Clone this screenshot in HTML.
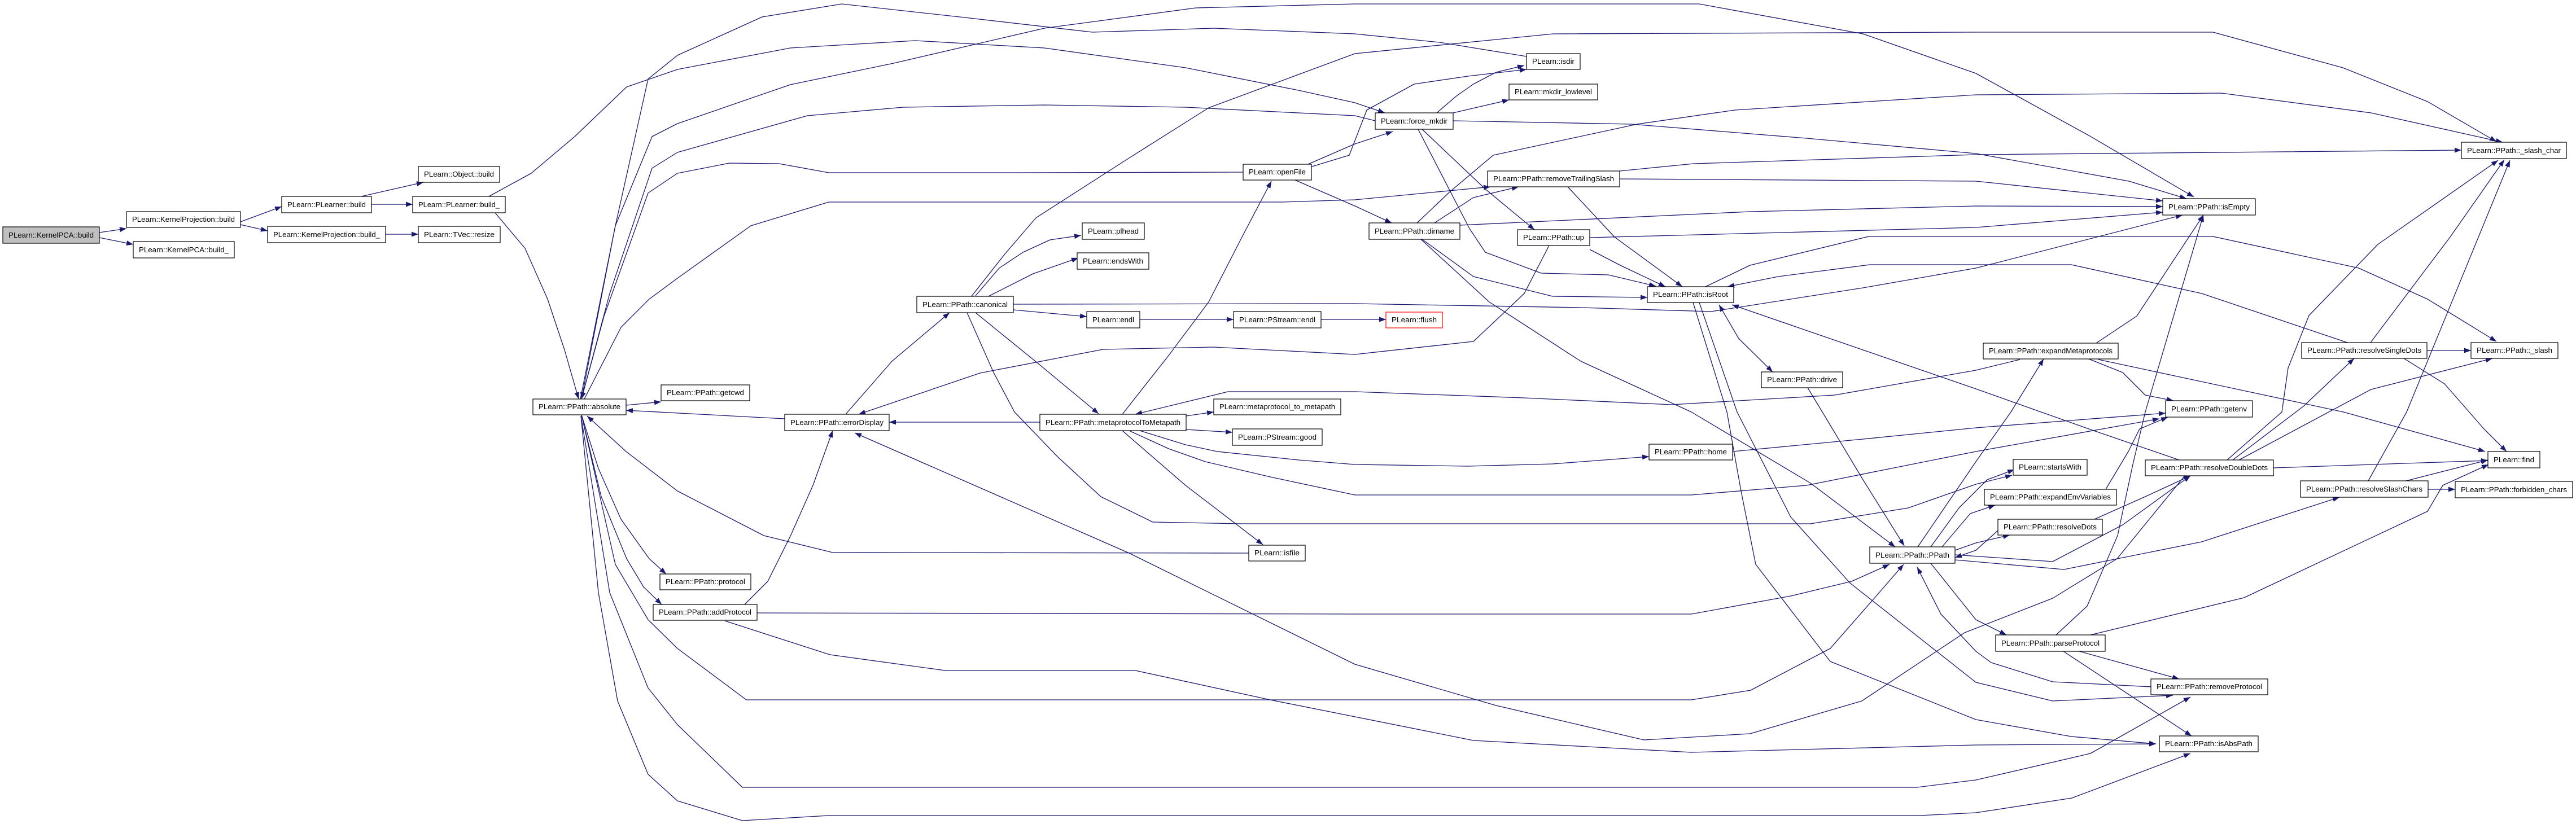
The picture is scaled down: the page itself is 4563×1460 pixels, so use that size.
<!DOCTYPE html>
<html><head><meta charset="utf-8"><style>
html,body{margin:0;padding:0;background:#fff}
svg{display:block}
text{font-family:"Liberation Sans",Arial,sans-serif;font-size:13px;fill:#000}
.e{fill:none;stroke:#191970;stroke-width:1.3;stroke-linejoin:round}
.n{fill:#fff;stroke:#000;stroke-width:1.2}
</style></head><body>
<svg width="4563" height="1460" viewBox="0 0 4563 1460" xmlns="http://www.w3.org/2000/svg">
<defs>
<marker id="a" markerUnits="userSpaceOnUse" markerWidth="12" markerHeight="9" refX="12" refY="4.5" orient="auto"><path d="M0,0 L12,4.5 L0,9 z" fill="#191970"/></marker>
<marker id="s" markerUnits="userSpaceOnUse" markerWidth="12" markerHeight="9" refX="0" refY="4.5" orient="auto"><path d="M12,0 L0,4.5 L12,9 z" fill="#191970"/></marker>
</defs>
<g marker-end="url(#a)">
<polyline class="e" points="176,412 224,405"/>
<polyline class="e" points="176,421 236,433"/>
<polyline class="e" points="426,393 499,366"/>
<polyline class="e" points="426,398 474,409"/>
<polyline class="e" points="640,348 750,323"/>
<polyline class="e" points="658,362 731,362"/>
<polyline class="e" points="683,415 741,415"/>
<polyline class="e" points="877,377 930,440 970,530 1000,620 1025,707"/>
<polyline class="e" points="866,348 941,307 1018,242 1110,154 1200,123 1400,85 1621,72 1850,85 2100,120 2300,160 2400,182 2453,200"/>
<polyline class="e" points="2704,100 2550,75 2400,60 2150,50 1935,57 1700,30 1491,7 1350,30 1200,98 1148,140 1090,400 1030,707"/>
<polyline class="e" points="1028,707 1090,400 1155,242 1200,219 1400,150 1583,112 1850,50 2118,14 2400,7 3010,7 3300,60 3500,130 3700,240 3886,349"/>
<polyline class="e" points="2436,214 2400,205 2100,190 1850,186 1600,190 1430,205 1200,270 1155,298 1080,520 1030,707"/>
<polyline class="e" points="2202,305 1800,306 1468,306 1380,290 1292,289 1200,307 1148,342 1070,560 1030,707"/>
<polyline class="e" points="1035,707 1100,580 1150,530 1200,493 1330,400 1468,358 2271,358 2400,354 2640,331"/>
<polyline class="e" points="1720,526 1780,450 1835,386 2000,280 2141,191 2400,95 2751,60 3500,57 3920,57 4150,120 4300,180 4422,251"/>
<polyline class="e" points="1795,539 2400,538 2800,545 3031,552 3300,510 3500,475 3866,381"/>
<polyline class="e" points="1728,524 1770,475 1812,447 1860,425 1915,417"/>
<polyline class="e" points="1751,525 1830,485 1910,457"/>
<polyline class="e" points="1795,549 1925,561"/>
<polyline class="e" points="2019,566 2185,566"/>
<polyline class="e" points="2340,566 2455,566"/>
<polyline class="e" points="1728,554 1840,645 1946,733"/>
<polyline class="e" points="1713,554 1760,660 1797,730 1873,809 1950,880 2042,925 2200,928 2400,928 3207,928 3380,900 3500,858 3564,842"/>
<polyline class="e" points="1498,734 1580,640 1682,554"/>
<polyline class="e" points="1390,742 1109,727"/>
<polyline class="e" points="1842,748 1575,748"/>
<polyline class="e" points="1988,734 2070,630 2141,535 2200,420 2252,321"/>
<polyline class="e" points="2101,737 2150,730"/>
<polyline class="e" points="2101,761 2183,766"/>
<polyline class="e" points="1988,763 2100,860 2237,965"/>
<polyline class="e" points="2019,763 2100,788 2156,800 2300,815 2400,823 2600,826 2750,822 2921,809"/>
<polyline class="e" points="2000,763 2070,795 2135,818 2250,845 2400,877 2996,877 3200,860 3500,800 3825,742"/>
<polyline class="e" points="3069,800 3300,778 3500,758 3836,732"/>
<polyline class="e" points="2212,980 1475,979 1353,949 1200,870 1109,800 1040,737"/>
<polyline class="e" points="1109,718 1171,712"/>
<polyline class="e" points="1030,735 1060,830 1100,920 1150,990 1180,1017"/>
<polyline class="e" points="1030,735 1065,880 1110,990 1140,1040 1172,1071"/>
<polyline class="e" points="1319,1071 1360,1030 1400,950 1440,860 1475,763"/>
<polyline class="e" points="1341,1086 2400,1088 2996,1088 3172,1056 3280,1030 3347,1000"/>
<polyline class="e" points="1284,1100 1470,1160 1674,1188 2011,1188 2250,1240 2400,1270 2610,1312 2996,1333 3500,1320 3819,1318"/>
<polyline class="e" points="1030,735 1090,1000 1148,1098 1200,1149 1322,1240 1452,1240 2400,1240 2996,1240 3101,1223 3242,1149 3320,1060 3372,1000"/>
<polyline class="e" points="1029,737 1080,1050 1148,1219 1200,1284 1315,1395 1468,1395 2400,1395 3396,1395 3500,1382 3703,1335 3880,1235"/>
<polyline class="e" points="1029,737 1060,1050 1094,1242 1148,1372 1200,1419 1315,1454 1468,1445 2400,1445 3400,1445 3500,1440 3670,1414 3880,1335"/>
<polyline class="e" points="2744,435 2700,520 2610,605 2400,628 2150,615 1954,619 1736,661 1521,734"/>
<polyline class="e" points="3578,637 3500,656 3250,700 2961,717 2700,705 2400,694 2175,694 2011,734"/>
<polyline class="e" points="3870,843 3750,990 3636,1060 3480,1121 3298,1242 3100,1300 2912,1311 2650,1250 2400,1177 2000,980 1514,767"/>
<polyline class="e" points="2545,200 2580,170 2610,149 2650,128 2700,116"/>
<polyline class="e" points="2321,296 2390,275 2421,195 2505,149 2600,135 2704,123"/>
<polyline class="e" points="2317,291 2400,255 2467,233"/>
<polyline class="e" points="2574,200 2673,177"/>
<polyline class="e" points="2574,214 2890,220 3200,245 3500,272 3771,321 3873,352"/>
<polyline class="e" points="2512,229 2603,405 2631,447 2730,484 2849,487 2933,507"/>
<polyline class="e" points="2519,229 2631,335 2718,407"/>
<polyline class="e" points="2294,319 2400,365 2465,395"/>
<polyline class="e" points="2541,395 2610,350 2690,331"/>
<polyline class="e" points="2510,395 2568,340 2645,275 2900,220 3073,195 3500,168 3935,165 4200,200 4433,252"/>
<polyline class="e" points="2586,399 3100,375 3500,365 3831,366"/>
<polyline class="e" points="2519,424 2610,490 2750,525 2918,527"/>
<polyline class="e" points="2517,424 2638,535 2800,640 2996,730 3207,856 3357,969"/>
<polyline class="e" points="2777,331 2860,420 2980,508"/>
<polyline class="e" points="2869,303 3000,290 3500,274 4360,266"/>
<polyline class="e" points="2869,317 3500,321 3831,356"/>
<polyline class="e" points="2816,442 2870,470 2950,508"/>
<polyline class="e" points="2816,421 3500,403 3831,376"/>
<polyline class="e" points="3021,508 3100,470 3310,419 3500,419 3920,419 4178,475 4300,530 4422,605"/>
<polyline class="e" points="4158,607 3900,520 3669,469 3500,469 3312,469 3150,490 3060,508"/>
<polyline class="e" points="3860,815 3700,760 3500,689 3068,540"/>
<polyline class="e" points="2999,536 3059,730 3084,870 3110,1000 3242,1172 3500,1275 3669,1305 3819,1318"/>
<polyline class="e" points="3010,536 3077,730 3172,916 3277,1033 3500,1209 3636,1242 3849,1232"/>
<polyline class="e" points="3812,1217 3636,1208 3527,1174 3500,1154 3438,1088 3396,1005"/>
<polyline class="e" points="3202,687 3228,730 3300,850 3373,967"/>
<polyline class="e" points="3397,969 3500,818 3562,730 3620,636"/>
<polyline class="e" points="3420,969 3470,900 3520,850 3568,832"/>
<polyline class="e" points="3440,969 3490,910 3534,895"/>
<polyline class="e" points="3463,975 3500,962 3560,948"/>
<polyline class="e" points="3463,983 3636,995 3760,930 3880,843"/>
<polyline class="e" points="3463,992 3656,1009 3900,960 4144,881"/>
<polyline class="e" points="3420,998 3500,1098 3554,1125"/>
<polyline class="e" points="3642,1125 3697,1074 3751,949 3778,823 3800,730 3903,381"/>
<polyline class="e" points="3713,608 3785,560 3903,381"/>
<polyline class="e" points="3700,636 3760,660 3800,700 3850,710"/>
<polyline class="e" points="3717,637 4151,730 4402,800"/>
<polyline class="e" points="4299,621 4377,621"/>
<polyline class="e" points="4199,607 4340,420 4436,283"/>
<polyline class="e" points="4258,635 4330,680 4400,760 4440,800"/>
<polyline class="e" points="3945,815 4042,730 4053,652 4090,559 4212,433 4425,284"/>
<polyline class="e" points="3966,815 4200,690 4415,635"/>
<polyline class="e" points="3955,815 4080,720 4170,635"/>
<polyline class="e" points="4027,829 4407,816"/>
<polyline class="e" points="4195,852 4263,730 4446,284"/>
<polyline class="e" points="4262,852 4407,815"/>
<polyline class="e" points="4301,867 4349,867"/>
<polyline class="e" points="3703,1125 3975,1059 4300,906 4327,860 4408,823"/>
<polyline class="e" points="3683,1154 3860,1203"/>
<polyline class="e" points="3655,1154 3882,1304"/>
<polyline class="e" points="3710,920 3800,880 3880,843"/>
<polyline class="e" points="3730,867 3770,800 3790,760 3840,739"/>
<polyline class="e" points="3539,940 3500,975 3463,988"/>
</g>
<polyline class="e" points="3140,659 3080,600 3045,540" marker-end="url(#a)" marker-start="url(#s)"/>

<g>
<rect class="n" x="5" y="402" width="171" height="29" style="fill:#bfbfbf"/><text x="90.5" y="421" text-anchor="middle" textLength="151" lengthAdjust="spacingAndGlyphs">PLearn::KernelPCA::build</text>
<rect class="n" x="224" y="375" width="202" height="28"/><text x="325" y="393" text-anchor="middle" textLength="182" lengthAdjust="spacingAndGlyphs">PLearn::KernelProjection::build</text>
<rect class="n" x="236" y="428" width="179" height="29"/><text x="325.5" y="447" text-anchor="middle" textLength="159" lengthAdjust="spacingAndGlyphs">PLearn::KernelPCA::build_</text>
<rect class="n" x="499" y="348" width="159" height="29"/><text x="578.5" y="367" text-anchor="middle" textLength="139" lengthAdjust="spacingAndGlyphs">PLearn::PLearner::build</text>
<rect class="n" x="474" y="401" width="209" height="29"/><text x="578.5" y="420" text-anchor="middle" textLength="189" lengthAdjust="spacingAndGlyphs">PLearn::KernelProjection::build_</text>
<rect class="n" x="741" y="295" width="144" height="28"/><text x="813" y="313" text-anchor="middle" textLength="124" lengthAdjust="spacingAndGlyphs">PLearn::Object::build</text>
<rect class="n" x="731" y="348" width="164" height="29"/><text x="813" y="367" text-anchor="middle" textLength="144" lengthAdjust="spacingAndGlyphs">PLearn::PLearner::build_</text>
<rect class="n" x="741" y="401" width="145" height="29"/><text x="813.5" y="420" text-anchor="middle" textLength="125" lengthAdjust="spacingAndGlyphs">PLearn::TVec::resize</text>
<rect class="n" x="944" y="707" width="165" height="28"/><text x="1026.5" y="725" text-anchor="middle" textLength="145" lengthAdjust="spacingAndGlyphs">PLearn::PPath::absolute</text>
<rect class="n" x="1171" y="682" width="157" height="28"/><text x="1249.5" y="700" text-anchor="middle" textLength="137" lengthAdjust="spacingAndGlyphs">PLearn::PPath::getcwd</text>
<rect class="n" x="1169" y="1017" width="161" height="28"/><text x="1249.5" y="1035" text-anchor="middle" textLength="141" lengthAdjust="spacingAndGlyphs">PLearn::PPath::protocol</text>
<rect class="n" x="1157" y="1071" width="184" height="28"/><text x="1249" y="1089" text-anchor="middle" textLength="164" lengthAdjust="spacingAndGlyphs">PLearn::PPath::addProtocol</text>
<rect class="n" x="1390" y="734" width="185" height="29"/><text x="1482.5" y="753" text-anchor="middle" textLength="165" lengthAdjust="spacingAndGlyphs">PLearn::PPath::errorDisplay</text>
<rect class="n" x="1624" y="525" width="171" height="29"/><text x="1709.5" y="544" text-anchor="middle" textLength="151" lengthAdjust="spacingAndGlyphs">PLearn::PPath::canonical</text>
<rect class="n" x="1917" y="395" width="110" height="29"/><text x="1972" y="414" text-anchor="middle" textLength="90" lengthAdjust="spacingAndGlyphs">PLearn::plhead</text>
<rect class="n" x="1908" y="448" width="127" height="29"/><text x="1971.5" y="467" text-anchor="middle" textLength="107" lengthAdjust="spacingAndGlyphs">PLearn::endsWith</text>
<rect class="n" x="1925" y="552" width="94" height="29"/><text x="1972" y="571" text-anchor="middle" textLength="74" lengthAdjust="spacingAndGlyphs">PLearn::endl</text>
<rect class="n" x="1842" y="734" width="259" height="29"/><text x="1971.5" y="753" text-anchor="middle" textLength="239" lengthAdjust="spacingAndGlyphs">PLearn::PPath::metaprotocolToMetapath</text>
<rect class="n" x="2150" y="707" width="225" height="28"/><text x="2262.5" y="725" text-anchor="middle" textLength="205" lengthAdjust="spacingAndGlyphs">PLearn::metaprotocol_to_metapath</text>
<rect class="n" x="2183" y="760" width="159" height="29"/><text x="2262.5" y="779" text-anchor="middle" textLength="139" lengthAdjust="spacingAndGlyphs">PLearn::PStream::good</text>
<rect class="n" x="2212" y="966" width="100" height="28"/><text x="2262" y="984" text-anchor="middle" textLength="80" lengthAdjust="spacingAndGlyphs">PLearn::isfile</text>
<rect class="n" x="2202" y="291" width="121" height="28"/><text x="2262.5" y="309" text-anchor="middle" textLength="101" lengthAdjust="spacingAndGlyphs">PLearn::openFile</text>
<rect class="n" x="2185" y="552" width="155" height="29"/><text x="2262.5" y="571" text-anchor="middle" textLength="135" lengthAdjust="spacingAndGlyphs">PLearn::PStream::endl</text>
<rect class="n" x="2455" y="553" width="100" height="28" style="stroke:#ff0000"/><text x="2505" y="571" text-anchor="middle" textLength="80" lengthAdjust="spacingAndGlyphs">PLearn::flush</text>
<rect class="n" x="2436" y="200" width="138" height="29"/><text x="2505" y="219" text-anchor="middle" textLength="118" lengthAdjust="spacingAndGlyphs">PLearn::force_mkdir</text>
<rect class="n" x="2704" y="95" width="95" height="28"/><text x="2751.5" y="113" text-anchor="middle" textLength="75" lengthAdjust="spacingAndGlyphs">PLearn::isdir</text>
<rect class="n" x="2673" y="149" width="157" height="28"/><text x="2751.5" y="167" text-anchor="middle" textLength="137" lengthAdjust="spacingAndGlyphs">PLearn::mkdir_lowlevel</text>
<rect class="n" x="2635" y="303" width="234" height="28"/><text x="2752" y="321" text-anchor="middle" textLength="214" lengthAdjust="spacingAndGlyphs">PLearn::PPath::removeTrailingSlash</text>
<rect class="n" x="2425" y="395" width="161" height="29"/><text x="2505.5" y="414" text-anchor="middle" textLength="141" lengthAdjust="spacingAndGlyphs">PLearn::PPath::dirname</text>
<rect class="n" x="2688" y="407" width="128" height="28"/><text x="2752" y="425" text-anchor="middle" textLength="108" lengthAdjust="spacingAndGlyphs">PLearn::PPath::up</text>
<rect class="n" x="2918" y="508" width="153" height="28"/><text x="2994.5" y="526" text-anchor="middle" textLength="133" lengthAdjust="spacingAndGlyphs">PLearn::PPath::isRoot</text>
<rect class="n" x="3120" y="659" width="144" height="28"/><text x="3192" y="677" text-anchor="middle" textLength="124" lengthAdjust="spacingAndGlyphs">PLearn::PPath::drive</text>
<rect class="n" x="2921" y="787" width="148" height="28"/><text x="2995" y="805" text-anchor="middle" textLength="128" lengthAdjust="spacingAndGlyphs">PLearn::PPath::home</text>
<rect class="n" x="3312" y="969" width="151" height="29"/><text x="3387.5" y="988" text-anchor="middle" textLength="131" lengthAdjust="spacingAndGlyphs">PLearn::PPath::PPath</text>
<rect class="n" x="3831" y="352" width="164" height="29"/><text x="3913" y="371" text-anchor="middle" textLength="144" lengthAdjust="spacingAndGlyphs">PLearn::PPath::isEmpty</text>
<rect class="n" x="4360" y="252" width="186" height="29"/><text x="4453" y="271" text-anchor="middle" textLength="166" lengthAdjust="spacingAndGlyphs">PLearn::PPath::_slash_char</text>
<rect class="n" x="3513" y="608" width="239" height="28"/><text x="3632.5" y="626" text-anchor="middle" textLength="219" lengthAdjust="spacingAndGlyphs">PLearn::PPath::expandMetaprotocols</text>
<rect class="n" x="4077" y="607" width="222" height="28"/><text x="4188" y="625" text-anchor="middle" textLength="202" lengthAdjust="spacingAndGlyphs">PLearn::PPath::resolveSingleDots</text>
<rect class="n" x="4377" y="607" width="154" height="28"/><text x="4454" y="625" text-anchor="middle" textLength="134" lengthAdjust="spacingAndGlyphs">PLearn::PPath::_slash</text>
<rect class="n" x="3836" y="710" width="154" height="29"/><text x="3913" y="729" text-anchor="middle" textLength="134" lengthAdjust="spacingAndGlyphs">PLearn::PPath::getenv</text>
<rect class="n" x="3566" y="814" width="131" height="28"/><text x="3631.5" y="832" text-anchor="middle" textLength="111" lengthAdjust="spacingAndGlyphs">PLearn::startsWith</text>
<rect class="n" x="3515" y="867" width="234" height="28"/><text x="3632" y="885" text-anchor="middle" textLength="214" lengthAdjust="spacingAndGlyphs">PLearn::PPath::expandEnvVariables</text>
<rect class="n" x="3539" y="920" width="185" height="28"/><text x="3631.5" y="938" text-anchor="middle" textLength="165" lengthAdjust="spacingAndGlyphs">PLearn::PPath::resolveDots</text>
<rect class="n" x="3800" y="815" width="227" height="28"/><text x="3913.5" y="833" text-anchor="middle" textLength="207" lengthAdjust="spacingAndGlyphs">PLearn::PPath::resolveDoubleDots</text>
<rect class="n" x="4407" y="800" width="92" height="29"/><text x="4453" y="819" text-anchor="middle" textLength="72" lengthAdjust="spacingAndGlyphs">PLearn::find</text>
<rect class="n" x="4075" y="852" width="226" height="29"/><text x="4188" y="871" text-anchor="middle" textLength="206" lengthAdjust="spacingAndGlyphs">PLearn::PPath::resolveSlashChars</text>
<rect class="n" x="4349" y="853" width="208" height="29"/><text x="4453" y="872" text-anchor="middle" textLength="188" lengthAdjust="spacingAndGlyphs">PLearn::PPath::forbidden_chars</text>
<rect class="n" x="3535" y="1125" width="194" height="29"/><text x="3632" y="1144" text-anchor="middle" textLength="174" lengthAdjust="spacingAndGlyphs">PLearn::PPath::parseProtocol</text>
<rect class="n" x="3810" y="1203" width="207" height="28"/><text x="3913.5" y="1221" text-anchor="middle" textLength="187" lengthAdjust="spacingAndGlyphs">PLearn::PPath::removeProtocol</text>
<rect class="n" x="3825" y="1304" width="175" height="28"/><text x="3912.5" y="1322" text-anchor="middle" textLength="155" lengthAdjust="spacingAndGlyphs">PLearn::PPath::isAbsPath</text>
</g>
</svg>
</body></html>
